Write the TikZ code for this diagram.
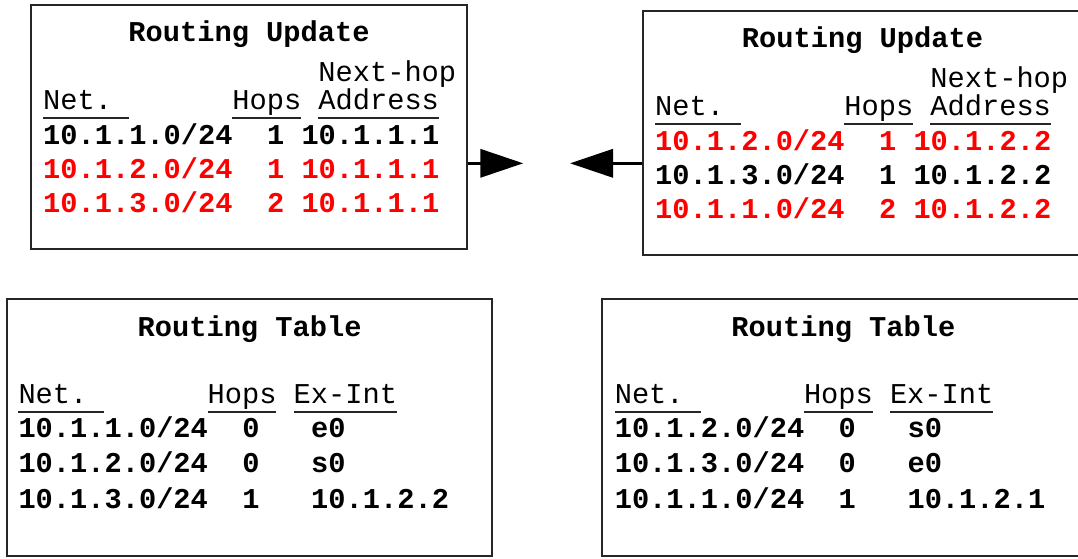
\documentclass[tikz,border=0pt]{standalone}
\usepackage{fontspec}
\setmonofont{Liberation Mono}
\usetikzlibrary{arrows.meta,fit}
\newcommand\mono{\ttfamily\frenchspacing\fontsize{28.7pt}{30pt}\selectfont}
\newcommand\cellw{17.2}

\begin{document}
\begin{tikzpicture}[x=1pt,y=-1pt]
  \tikzset{box/.style={draw=black!85,line width=2pt,inner sep=0pt},
           txt/.style={inner sep=0pt,anchor=base west,font=\mono},
           row/.style={txt,font=\mono\bfseries},
           hot/.style={row,text=red},
           title/.style={inner sep=0pt,anchor=base,font=\mono\bfseries},
           uline/.style={draw=black!85,line width=2pt},
           send/.style={line width=3.5pt,-{Triangle[length=43pt,width=28pt]}}}
  \useasboundingbox (0,0) rectangle (1078,558);
  \clip (0,0) rectangle (1078,558);
  \node[box,fit={(31,5) (467,249.3)}] (upd1) {};
  \node[box,fit={(643,11) (1086,255)}] (upd2) {};
  \node[box,fit={(7,299.3) (492.3,556)}] (tab1) {};
  \node[box,fit={(601.7,299.3) (1086,556)}] (tab2) {};

  \node[title] (u1title) at (249,41.7) {Routing Update};
  \node[txt] (u1next) at (43+16*\cellw,81.7) {Next-hop};
  \node[txt] (u1net) at (43,109.5) {Net.};
  \node[txt] (u1hops) at (43+11*\cellw,109.5) {Hops};
  \node[txt] (u1addr) at (43+16*\cellw,109.5) {Address};
  \draw[uline] ([yshift=-8pt]u1net.base west) -- ++(5*\cellw,0);
  \draw[uline] ([yshift=-8pt]u1hops.base west) -- ++(4*\cellw,0);
  \draw[uline] ([yshift=-8pt]u1addr.base west) -- ++(7*\cellw,0);
  \node[row] (u1r1) at (43,144) {10.1.1.0/24~~1~10.1.1.1};
  \node[hot] (u1r2) at (43,178) {10.1.2.0/24~~1~10.1.1.1};
  \node[hot] (u1r3) at (43,212) {10.1.3.0/24~~2~10.1.1.1};

  \node[title] (u2title) at (862.5,47.7) {Routing Update};
  \node[txt] (u2next) at (655+16*\cellw,87.7) {Next-hop};
  \node[txt] (u2net) at (655,115.5) {Net.};
  \node[txt] (u2hops) at (655+11*\cellw,115.5) {Hops};
  \node[txt] (u2addr) at (655+16*\cellw,115.5) {Address};
  \draw[uline] ([yshift=-8pt]u2net.base west) -- ++(5*\cellw,0);
  \draw[uline] ([yshift=-8pt]u2hops.base west) -- ++(4*\cellw,0);
  \draw[uline] ([yshift=-8pt]u2addr.base west) -- ++(7*\cellw,0);
  \node[hot] (u2r1) at (655,150) {10.1.2.0/24~~1~10.1.2.2};
  \node[row] (u2r2) at (655,184) {10.1.3.0/24~~1~10.1.2.2};
  \node[hot] (u2r3) at (655,218) {10.1.1.0/24~~2~10.1.2.2};

  \node[title] (t1title) at (249.6,336) {Routing Table};
  \node[txt] (t1net) at (18.3,403.5) {Net.};
  \node[txt] (t1hops) at (18.3+11*\cellw,403.5) {Hops};
  \node[txt] (t1int) at (18.3+16*\cellw,403.5) {Ex-Int};
  \draw[uline] ([yshift=-8pt]t1net.base west) -- ++(5*\cellw,0);
  \draw[uline] ([yshift=-8pt]t1hops.base west) -- ++(4*\cellw,0);
  \draw[uline] ([yshift=-8pt]t1int.base west) -- ++(6*\cellw,0);
  \node[row] (t1r1) at (18.3,437) {10.1.1.0/24~~0~~~e0};
  \node[row] (t1r2) at (18.3,472.7) {10.1.2.0/24~~0~~~s0};
  \node[row] (t1r3) at (18.3,508.3) {10.1.3.0/24~~1~~~10.1.2.2};

  \node[title] (t2title) at (843.4,336) {Routing Table};
  \node[txt] (t2net) at (614.6,403.5) {Net.};
  \node[txt] (t2hops) at (614.6+11*\cellw,403.5) {Hops};
  \node[txt] (t2int) at (614.6+16*\cellw,403.5) {Ex-Int};
  \draw[uline] ([yshift=-8pt]t2net.base west) -- ++(5*\cellw,0);
  \draw[uline] ([yshift=-8pt]t2hops.base west) -- ++(4*\cellw,0);
  \draw[uline] ([yshift=-8pt]t2int.base west) -- ++(6*\cellw,0);
  \node[row] (t2r1) at (614.6,437) {10.1.2.0/24~~0~~~s0};
  \node[row] (t2r2) at (614.6,472.7) {10.1.3.0/24~~0~~~e0};
  \node[row] (t2r3) at (614.6,508.3) {10.1.1.0/24~~1~~~10.1.2.1};

  \coordinate (tipR) at (523.3,163.3);
  \coordinate (tipL) at (570,163.3);
  \draw[send] (upd1.east |- tipR) -- (tipR);
  \draw[send] (upd2.west |- tipL) -- (tipL);
\end{tikzpicture}
\end{document}
